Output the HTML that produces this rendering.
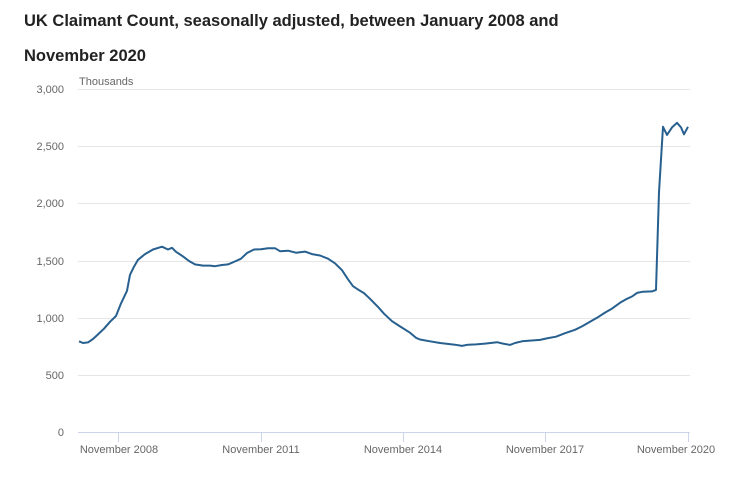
<!DOCTYPE html>
<html><head><meta charset="utf-8"><style>
body{margin:0;background:#fff;font-family:"Liberation Sans",sans-serif;}
svg{display:block}
</style></head><body>
<svg width="738" height="485" xmlns="http://www.w3.org/2000/svg">
<text x="24" y="26" font-size="16.5" font-weight="bold" fill="#222">UK Claimant Count, seasonally adjusted, between January 2008 and</text>
<text x="24" y="61" font-size="16.5" font-weight="bold" fill="#222">November 2020</text>
<g stroke="#e6e6e6" stroke-width="1">
<line x1="78" x2="690" y1="89.5" y2="89.5"/><line x1="78" x2="690" y1="146.5" y2="146.5"/>
<line x1="78" x2="690" y1="203.5" y2="203.5"/><line x1="78" x2="690" y1="261.5" y2="261.5"/>
<line x1="78" x2="690" y1="318.5" y2="318.5"/><line x1="78" x2="690" y1="375.5" y2="375.5"/>
</g>
<line x1="78" x2="690" y1="432.5" y2="432.5" stroke="#ccd6eb"/>
<g stroke="#ccd6eb"><line x1="118.5" x2="118.5" y1="432" y2="442"/><line x1="261.5" x2="261.5" y1="432" y2="442"/><line x1="403.5" x2="403.5" y1="432" y2="442"/><line x1="545.5" x2="545.5" y1="432" y2="442"/><line x1="688.5" x2="688.5" y1="432" y2="442"/></g>
<g font-size="11" fill="#666" text-anchor="end">
<text x="64" y="93">3,000</text><text x="64" y="150">2,500</text><text x="64" y="207">2,000</text>
<text x="64" y="265">1,500</text><text x="64" y="322">1,000</text><text x="64" y="379">500</text><text x="64" y="436">0</text>
</g>
<text x="79" y="85" font-size="11" fill="#666">Thousands</text>
<g font-size="11" fill="#666" text-anchor="middle">
<text x="119" y="453">November 2008</text><text x="261" y="453">November 2011</text><text x="403" y="453">November 2014</text><text x="545" y="453">November 2017</text><text x="676" y="453">November 2020</text>
</g>
<polyline id="ln" fill="none" stroke="#27608f" stroke-width="2" stroke-linejoin="round" points=""/>
</svg>
<script>
var d=[[79,800],[83,785],[88,790],[93,820],[98,860],[104,910],[110,970],[116,1020],[121,1130],[127,1240],[130,1380],[134,1450],[138,1510],[145,1560],[153,1600],[162,1625],[168,1600],[172,1615],[176,1580],[183,1540],[189,1500],[195,1470],[203,1460],[210,1460],[215,1455],[222,1465],[228,1470],[236,1500],[241,1520],[247,1570],[254,1600],[261,1603],[268,1612],[275,1612],[280,1585],[288,1590],[296,1572],[305,1582],[312,1560],[320,1548],[328,1520],[335,1480],[342,1420],[348,1340],[353,1280],[360,1240],[364,1220],[370,1170],[378,1100],[384,1040],[392,975],[400,930],[410,875],[416,830],[420,815],[430,800],[440,785],[455,770],[462,760],[468,770],[476,773],[485,780],[497,792],[503,780],[510,768],[515,785],[522,800],[530,806],[540,812],[548,828],[556,840],[565,870],[575,900],[582,930],[590,970],[597,1005],[605,1050],[612,1085],[620,1135],[627,1170],[632,1190],[637,1222],[643,1232],[652,1235],[656,1248],[659,2100],[663,2670],[667,2600],[672,2665],[677,2705],[681,2665],[684,2605],[688,2670]];
document.getElementById('ln').setAttribute('points',d.map(function(p){return p[0]+','+(433-p[1]*0.11467).toFixed(1)}).join(' '));
</script>
</body></html>
